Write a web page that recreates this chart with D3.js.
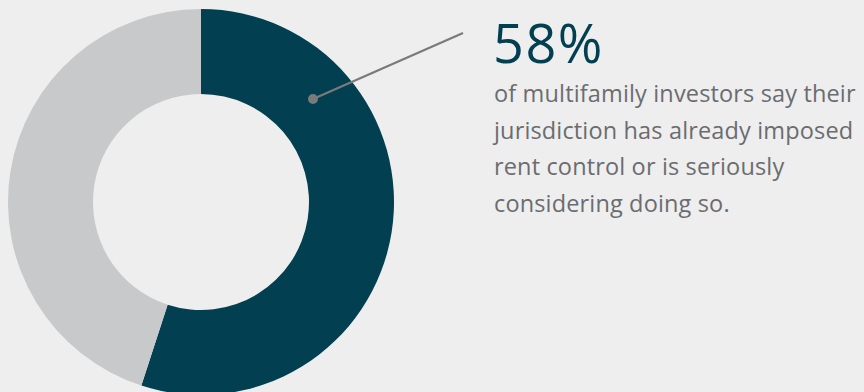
<!DOCTYPE html>
<html>
<head>
<meta charset="utf-8">
<script src="https://cdn.jsdelivr.net/npm/d3@7"></script>
<style>
  html, body { margin: 0; padding: 0; background: #eeeeee; }
  svg { display: block; }
</style>
</head>
<body>
<svg id="chart" width="864" height="392"></svg>
<script>
// Data
const categories = ["Imposed or considering rent control", "Other"];
const values = [55, 45];
const headline = "58%";
const bodyLines = [
  "of multifamily investors say their",
  "jurisdiction has already imposed",
  "rent control or is seriously",
  "considering doing so."
];
const colors = ["#013f51", "#c8c9cb"];

const svg = d3.select("#chart");
const cx = 201, cy = 202, outerR = 193, innerR = 108;

const pie = d3.pie().sort(null).value(d => d)(values);
const arc = d3.arc().innerRadius(innerR).outerRadius(outerR);

const g = svg.append("g").attr("transform", `translate(${cx},${cy})`);
g.selectAll("path")
  .data(pie)
  .join("path")
  .attr("d", arc)
  .attr("fill", (d, i) => colors[i]);

// Leader line
svg.append("line")
  .attr("x1", 313).attr("y1", 99)
  .attr("x2", 463).attr("y2", 33)
  .attr("stroke", "#7a7a7a")
  .attr("stroke-width", 2.2);
svg.append("circle")
  .attr("cx", 313).attr("cy", 99).attr("r", 5)
  .attr("fill", "#7a7a7a");

// Text
svg.append("text")
  .attr("x", 493).attr("y", 63)
  .attr("font-family", "'Open Sans', sans-serif")
  .attr("font-size", 54)
  .attr("letter-spacing", 1.5)
  .attr("fill", "#013f51")
  .text(headline);

svg.append("g")
  .selectAll("text")
  .data(bodyLines)
  .join("text")
  .attr("x", 494)
  .attr("y", (d, i) => 102 + i * 36.5)
  .attr("font-family", "'Open Sans', sans-serif")
  .attr("font-size", 23.5)
  .attr("letter-spacing", 0.15)
  .attr("fill", "#6b6c70")
  .text(d => d);
</script>
</body>
</html>
